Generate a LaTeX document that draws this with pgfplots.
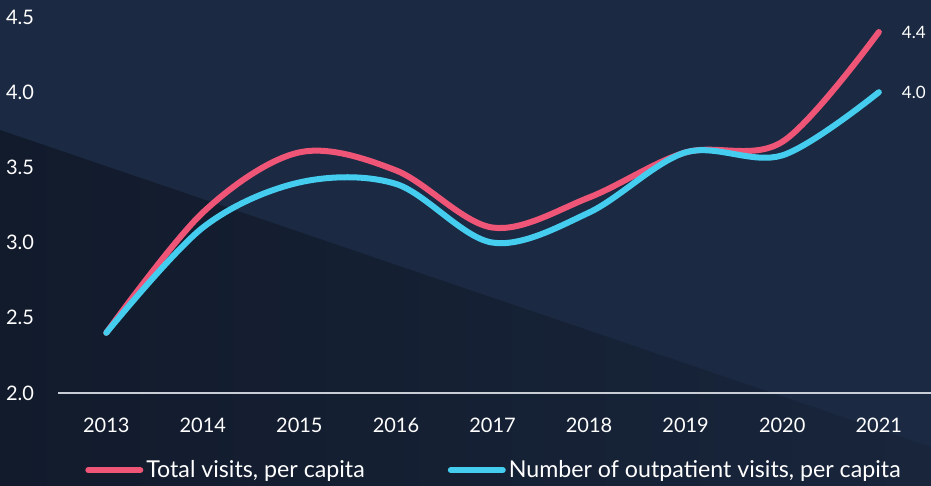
\documentclass[border=0pt]{standalone}
\usepackage{pgfplots}
\pgfplotsset{compat=1.18}
\usepackage{fontspec}
\setmainfont{Lato}
\definecolor{bgnavy}{HTML}{1B2A42}
\definecolor{bgdark}{HTML}{121B2C}
\definecolor{bgmid}{HTML}{18253B}
\definecolor{pinkline}{HTML}{EF5577}
\definecolor{cyanline}{HTML}{45CDEF}
\definecolor{axisgray}{HTML}{C9CDD6}
\begin{document}
\begin{tikzpicture}
\fill[bgnavy] (0,0) rectangle (465.5pt,243pt);
\shade[left color=bgdark, right color=bgmid] (0,0) -- (0,178pt) -- (465.5pt,19.5pt) -- (465.5pt,0) -- cycle;
\useasboundingbox (0,0) rectangle (465.5pt,243pt);
\begin{axis}[
  at={(29pt,46.5pt)}, anchor=south west,
  scale only axis, width=436.5pt, height=188pt,
  xmin=2012.5, xmax=2021.54, ymin=2, ymax=4.5,
  clip=false,
  axis x line=bottom, axis y line=left,
  x axis line style={draw=axisgray, line width=0.8pt, -},
  y axis line style={draw=none},
  major tick length=0pt,
  xtick={2013,...,2021},
  ytick={2,2.5,3,3.5,4,4.5},
  xticklabel style={yshift=-9pt, white},
  yticklabel style={xshift=-8.5pt, white},
  /pgf/number format/assume math mode=true,
  x tick label style={/pgf/number format/1000 sep={}},
  y tick label style={/pgf/number format/.cd, fixed, fixed zerofill, precision=1},
  tick label style={font=\normalsize},
  legend columns=2,
  legend style={at={(0.5,-0.205)}, anchor=center, draw=none, fill=none,
    text=white, font=\fontsize{11.6}{13}\selectfont,
    nodes={inner xsep=1.5pt},
    /tikz/every even column/.append style={column sep=40pt}},
  legend image code/.code={\draw[#1, line cap=round] (0pt,0pt) -- (26pt,0pt);},
  legend cell align=left,
]
\addplot[pinkline, line width=3pt, line cap=round, smooth, tension=0.55]
  coordinates {(2013,2.4) (2014,3.2) (2015,3.6) (2016,3.48) (2017,3.1) (2018,3.3) (2019,3.6) (2020,3.67) (2021,4.4)};
\addlegendentry{Total visits, per capita}
\addplot[cyanline, line width=3pt, line cap=round, smooth, tension=0.55]
  coordinates {(2013,2.4) (2014,3.1) (2015,3.4) (2016,3.39) (2017,3.0) (2018,3.2) (2019,3.6) (2020,3.58) (2021,4.0)};
\addlegendentry{Number of outpatient visits, per capita}
\node[white, font=\fontsize{8.5}{10}\selectfont, anchor=west] at (axis cs:2021,4.4) [xshift=8pt] {4.4};
\node[white, font=\fontsize{8.5}{10}\selectfont, anchor=west] at (axis cs:2021,4.0) [xshift=8pt] {4.0};
\end{axis}
\end{tikzpicture}
\end{document}
